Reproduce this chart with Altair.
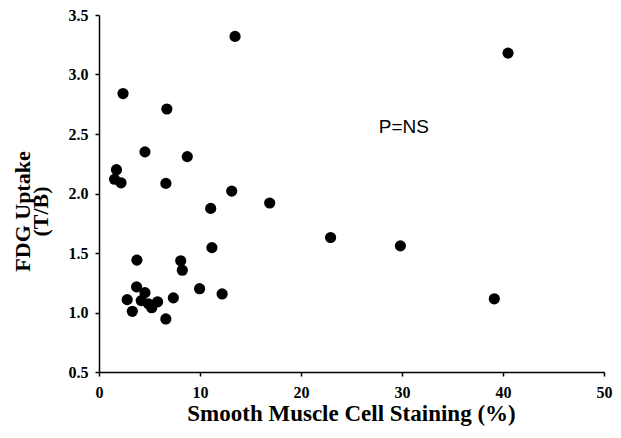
import altair as alt
import pandas as pd

smc_staining = [13.47, 40.5, 2.38, 6.72, 4.55, 8.74, 1.73, 1.54, 2.18, 6.62,
                13.14, 16.9, 11.06, 22.93, 29.84, 39.14, 11.18, 3.75, 8.09, 8.25,
                3.72, 9.96, 12.19, 4.55, 2.79, 7.36, 4.18, 4.89, 5.8, 5.22,
                3.3, 6.62]
fdg_uptake = [3.32, 3.18, 2.84, 2.71, 2.35, 2.31, 2.20, 2.12, 2.09, 2.085,
              2.02, 1.92, 1.875, 1.63, 1.56, 1.115, 1.545, 1.44, 1.435, 1.355,
              1.215, 1.20, 1.156, 1.167, 1.108, 1.123, 1.10, 1.073, 1.09, 1.04,
              1.01, 0.946]

x_ticks = [0, 10, 20, 30, 40, 50]
y_ticks = [0.5, 1.0, 1.5, 2.0, 2.5, 3.0, 3.5]

note_text = ["P=NS"]
note_x = [27.7]
note_y = [2.56]

df = pd.DataFrame({"x": smc_staining, "y": fdg_uptake})
notes = pd.DataFrame({"x": note_x, "y": note_y, "t": note_text})

serif = "Liberation Serif"

x_enc = alt.X(
    "x:Q",
    scale=alt.Scale(domain=[0, 50], nice=False, zero=False),
    axis=alt.Axis(
        values=x_ticks, format="d", grid=False,
        title="Smooth Muscle Cell Staining (%)",
        titleFont=serif, titleFontSize=23, titleFontWeight="bold", titleColor="black",
        titleBaseline="alphabetic", titleY=48, titleX=252, titleAlign="center",
        labelFont=serif, labelFontSize=16, labelFontWeight="bold", labelColor="black",
        labelPadding=8, tickSize=4, tickColor="black", tickWidth=1.5,
        domainColor="black", domainWidth=1.5, labelFlush=False,
    ),
)
y_enc = alt.Y(
    "y:Q",
    scale=alt.Scale(domain=[0.5, 3.5], nice=False, zero=False),
    axis=alt.Axis(
        values=y_ticks, format=".1f", grid=False,
        title=["FDG Uptake", "(T/B)"],
        titleFont=serif, titleFontSize=22, titleFontWeight="bold", titleColor="black",
        titleAngle=270, titleX=-70, titleY=196, titleAlign="center",
        titleBaseline="alphabetic", titleLineHeight=18,
        labelFont=serif, labelFontSize=16, labelFontWeight="bold", labelColor="black",
        labelPadding=7, tickSize=4, tickColor="black", tickWidth=1.5,
        domainColor="black", domainWidth=1.5, labelFlush=False,
    ),
)

points = alt.Chart(df).mark_circle(size=125, color="black", opacity=1).encode(
    x=x_enc, y=y_enc
)

note = alt.Chart(notes).mark_text(
    font="Liberation Sans", fontSize=19, color="black", align="left", baseline="middle"
).encode(x="x:Q", y="y:Q", text="t:N")

chart = (
    alt.layer(points, note)
    .properties(
        width=505, height=357,
        autosize=alt.AutoSizeParams(type="none"),
        padding={"left": 91, "top": 7, "right": 9, "bottom": 54},
        background="white",
    )
    .configure_view(stroke=None)
)

chart.save("out.html", embed_options={"renderer": "svg", "actions": False})
